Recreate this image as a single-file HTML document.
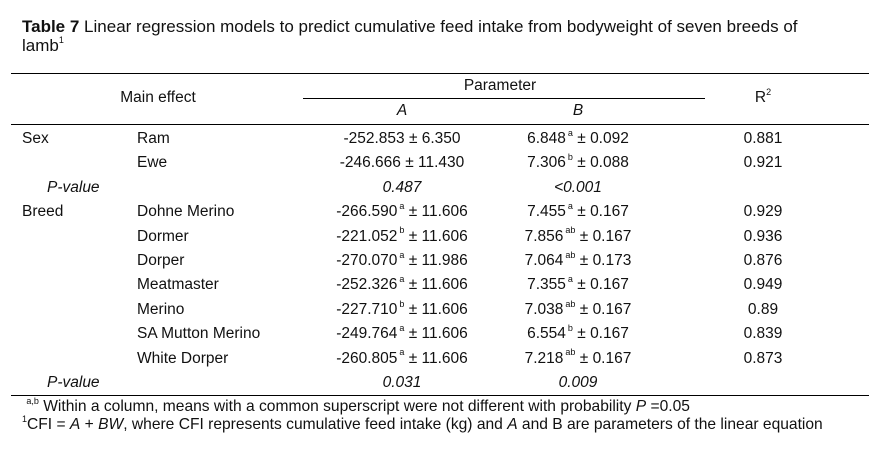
<!DOCTYPE html>
<html><head><meta charset="utf-8"><style>
body{margin:0;background:#fff;width:890px;height:451px;position:relative;font-family:"Liberation Sans",Arial,sans-serif;font-size:15.5px;color:#111;overflow:hidden}
.t{position:absolute;white-space:nowrap;line-height:16px}
.c{transform:translateX(-50%)}
.ln{position:absolute;height:1px;background:#000}
sup{font-size:9px;line-height:0;position:relative;top:-1px;vertical-align:super;margin-left:2px}
i{font-style:italic}
</style></head><body>
<div class="t" style="left:22px;top:18px;font-size:17px;line-height:18px"><b>Table 7</b> Linear regression models to predict cumulative feed intake from bodyweight of seven breeds of</div>
<div class="t" style="left:22px;top:37px;font-size:17px;line-height:18px">lamb<sup style="margin-left:0">1</sup></div>
<div class="ln" style="left:11px;top:73px;width:858px"></div>
<div class="ln" style="left:303px;top:98px;width:402px"></div>
<div class="ln" style="left:11px;top:124px;width:858px"></div>
<div class="ln" style="left:11px;top:395px;width:858px"></div>
<div class="t c" style="left:158px;top:90px">Main effect</div>
<div class="t c" style="left:500px;top:78px">Parameter</div>
<div class="t c" style="left:402px;top:103px"><i>A</i></div>
<div class="t c" style="left:578px;top:103px"><i>B</i></div>
<div class="t c" style="left:763px;top:90px">R<sup style="margin-left:0">2</sup></div>
<div id="rows"></div>
<div class="t" style="left:22px;top:398px;font-size:15.6px;line-height:17px">&nbsp;<sup style="margin-left:0">a,b</sup> Within a column, means with a common superscript were not different with probability <i>P</i> =0.05</div>
<div class="t" style="left:22px;top:416px;font-size:15.6px;line-height:17px"><sup style="margin-left:0">1</sup>CFI = <i>A</i> + <i>BW</i>, where CFI represents cumulative feed intake (kg) and <i>A</i> and B are parameters of the linear equation</div>
<script>
const rows=[
["Sex","Ram","-252.853 ± 6.350","6.848<sup>a</sup> ± 0.092","0.881"],
["","Ewe","-246.666 ± 11.430","7.306<sup>b</sup> ± 0.088","0.921"],
["P","","0.487","&lt;0.001",""],
["Breed","Dohne Merino","-266.590<sup>a</sup> ± 11.606","7.455<sup>a</sup> ± 0.167","0.929"],
["","Dormer","-221.052<sup>b</sup> ± 11.606","7.856<sup>ab</sup> ± 0.167","0.936"],
["","Dorper","-270.070<sup>a</sup> ± 11.986","7.064<sup>ab</sup> ± 0.173","0.876"],
["","Meatmaster","-252.326<sup>a</sup> ± 11.606","7.355<sup>a</sup> ± 0.167","0.949"],
["","Merino","-227.710<sup>b</sup> ± 11.606","7.038<sup>ab</sup> ± 0.167","0.89"],
["","SA Mutton Merino","-249.764<sup>a</sup> ± 11.606","6.554<sup>b</sup> ± 0.167","0.839"],
["","White Dorper","-260.805<sup>a</sup> ± 11.606","7.218<sup>ab</sup> ± 0.167","0.873"],
["P","","0.031","0.009",""]];
const box=document.getElementById('rows');
rows.forEach((r,i)=>{
 const top=131+i*24.4;
 const p=r[0]==="P";
 const mk=(html,x,cen,name)=>{const d=document.createElement('div');d.className='t'+(cen?' c':'');d.style.left=x+'px';d.style.top=top+'px';d.innerHTML=html;if(p&&cen)d.style.fontStyle='italic';
 
 
 box.appendChild(d);};
 if(p)mk('<i>P-value</i>',47,false,'p-value-label');
 else if(r[0])mk(r[0],22,false,'group-label');
 if(r[1])mk(r[1],137,false,'row-label');
 mk(r[2],402,true,'param-a-cell');
 mk(r[3],578,true,'param-b-cell');
 if(r[4])mk(r[4],763,true,'r2-cell');
});
</script>
</body></html>
